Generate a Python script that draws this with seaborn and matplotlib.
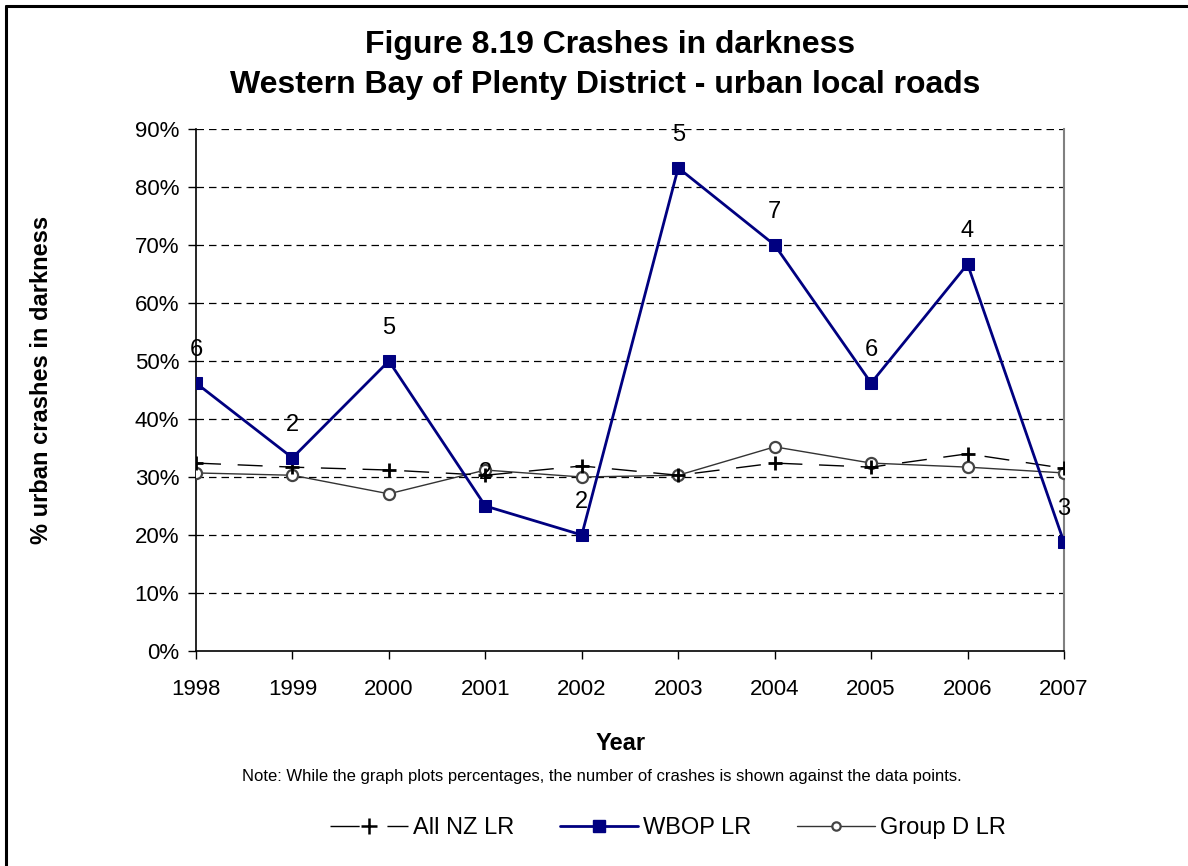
import matplotlib
matplotlib.use("Agg")
import matplotlib.pyplot as plt
from matplotlib.lines import Line2D
import seaborn as sns
import pandas as pd

# Data
years = [1998, 1999, 2000, 2001, 2002, 2003, 2004, 2005, 2006, 2007]
all_nz_lr = [32.4, 31.7, 31.2, 30.3, 31.9, 30.3, 32.4, 31.7, 34.0, 31.5]
wbop_lr = [46.2, 33.3, 50.0, 25.0, 20.0, 83.3, 70.0, 46.2, 66.7, 18.75]
group_d_lr = [30.7, 30.3, 27.1, 31.2, 30.0, 30.3, 35.2, 32.4, 31.7, 30.7]
wbop_counts = [6, 2, 5, 2, 2, 5, 7, 6, 4, 3]
y_ticks = [0, 10, 20, 30, 40, 50, 60, 70, 80, 90]

sns.set_style("white")
plt.rcParams["font.family"] = ["Liberation Sans", "DejaVu Sans"]
plt.rcParams.update({"text.color": "black", "axes.labelcolor": "black",
                     "xtick.color": "black", "ytick.color": "black"})

fig = plt.figure(figsize=(11.88, 8.66), dpi=100)
ax = fig.add_axes([196 / 1188, 1 - 651 / 866, (1064 - 196) / 1188, (651 - 129) / 866])

df = pd.DataFrame({"Year": years, "All NZ LR": all_nz_lr,
                   "WBOP LR": wbop_lr, "Group D LR": group_d_lr})

# Horizontal gridlines
for v in y_ticks[1:]:
    ax.axhline(v, color="black", lw=0.9, ls=(0, (6, 4)), zorder=0)

sns.lineplot(data=df, x="Year", y="Group D LR", ax=ax, color="#333333", lw=1.0,
             marker="o", markersize=8, markerfacecolor="white",
             markeredgecolor="#444444", markeredgewidth=1.6, zorder=3,
             label="Group D LR")
sns.lineplot(data=df, x="Year", y="All NZ LR", ax=ax, color="black", lw=1.0,
             dashes=(18, 12), marker="+", markersize=10, markeredgewidth=2.0,
             markeredgecolor="black", zorder=3, label="All NZ LR")
sns.lineplot(data=df, x="Year", y="WBOP LR", ax=ax, color="#000080", lw=2.0,
             marker="s", markersize=8, markeredgecolor="#000080", zorder=4,
             label="WBOP LR")

# Crash counts above each WBOP point
for x, y, n in zip(years, wbop_lr, wbop_counts):
    ax.annotate(str(n), (x, y), xytext=(0, 24), textcoords="offset points",
                ha="center", va="center", fontsize=17, color="black", zorder=5,
                annotation_clip=False)

ax.set_xlim(years[0], years[-1])
ax.set_ylim(0, 90)
ax.set_xticks(years)
ax.set_xticklabels([str(y) for y in years])
ax.set_yticks(y_ticks)
ax.set_yticklabels([f"{v}%" for v in y_ticks])
ax.tick_params(axis="both", labelsize=16, length=6, width=1, color="black",
               direction="out", bottom=True, left=True, pad=6)
ax.tick_params(axis="x", pad=14)

for side in ["left", "bottom"]:
    ax.spines[side].set_color("black")
    ax.spines[side].set_linewidth(1.2)
ax.spines["right"].set_color("#808080")
ax.spines["right"].set_linewidth(1.5)
ax.spines["top"].set_visible(False)
ax.set_xlabel("")
ax.set_ylabel("")

# Legend
handles = [
    Line2D([], [], color="black", lw=1.0, dashes=(21, 20), marker="+",
           markersize=11, markeredgewidth=1.8),
    Line2D([], [], color="#000080", lw=2.0, marker="s", markersize=8),
    Line2D([], [], color="#333333", lw=1.0, marker="o", markersize=6,
           markerfacecolor="white", markeredgecolor="#444444",
           markeredgewidth=1.6),
]
ax.legend_.remove()
fig.legend(handles, ["All NZ LR", "WBOP LR", "Group D LR"], loc="center",
           bbox_to_anchor=(668 / 1188, 1 - 828 / 866), ncol=3, frameon=False,
           fontsize=17, handlelength=3.3, columnspacing=1.95, handletextpad=0.2)

# Titles and axis labels
fig.text(610 / 1188, 1 - 45 / 866, "Figure 8.19 Crashes in darkness",
         ha="center", va="center", fontsize=23, fontweight="bold")
fig.text(605 / 1188, 1 - 85 / 866, "Western Bay of Plenty District - urban local roads",
         ha="center", va="center", fontsize=23, fontweight="bold")
fig.text(42 / 1188, 1 - 380 / 866, "% urban crashes in darkness", rotation=90,
         ha="center", va="center", fontsize=17, fontweight="bold")
fig.text(621 / 1188, 1 - 744 / 866, "Year", ha="center", va="center",
         fontsize=17, fontweight="bold")
fig.text(602 / 1188, 1 - 776 / 866,
         "Note: While the graph plots percentages, the number of crashes is shown against the data points.",
         ha="center", va="center", fontsize=12)

# Outer frame (left and top edges)
fig.add_artist(Line2D([6 / 1188, 6 / 1188], [0, 1 - 6 / 866], color="black", lw=2.2))
fig.add_artist(Line2D([6 / 1188, 1], [1 - 6 / 866, 1 - 6 / 866], color="black", lw=2.2))

fig.savefig("out.png", dpi=100)
